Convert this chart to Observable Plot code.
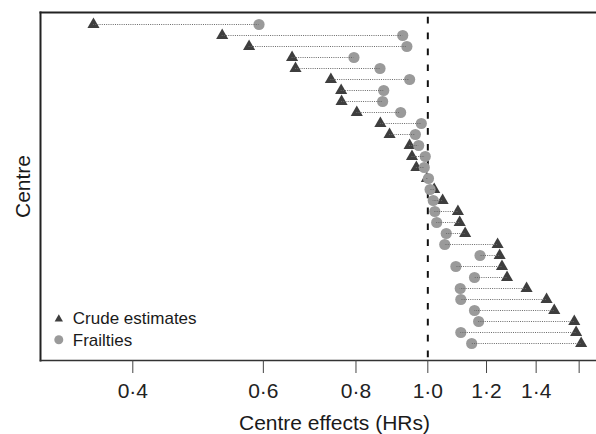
<!DOCTYPE html>
<html>
<head>
<meta charset="utf-8">
<script src="https://cdn.jsdelivr.net/npm/d3@7"></script>
<script src="https://cdn.jsdelivr.net/npm/@observablehq/plot@0.6"></script>
<style>
  html, body { margin: 0; padding: 0; background: #fff; overflow: hidden; }
  svg { font-family: "Liberation Sans", Arial, Helvetica, sans-serif; display: block; }
</style>
</head>
<body>
<div id="chart"></div>
<script>
// Centre rank (top to bottom)
const centre = d3.range(1, 31);
// Crude estimates (HR) per centre
const crude = [0.354, 0.528, 0.574, 0.656, 0.663, 0.740, 0.764, 0.765, 0.802, 0.863,
               0.888, 0.945, 0.952, 0.965, 0.997, 1.020, 1.047, 1.098, 1.104, 1.123,
               1.242, 1.250, 1.259, 1.279, 1.359, 1.446, 1.481, 1.576, 1.585, 1.610];
// Frailties (HR) per centre
const frailty = [0.592, 0.925, 0.937, 0.795, 0.862, 0.945, 0.872, 0.869, 0.919, 0.980,
                 0.962, 0.972, 0.992, 0.989, 1.002, 1.007, 1.017, 1.022, 1.028, 1.059,
                 1.054, 1.176, 1.091, 1.156, 1.106, 1.108, 1.156, 1.171, 1.108, 1.146];
const xTicks = [0.4, 0.6, 0.8, 1.0, 1.2, 1.4, 1.6];
const xTickLabels = ["0·4", "0·6", "0·8", "1·0", "1·2", "1·4", ""];
const legendLabels = ["Crude estimates", "Frailties"];
const xLabel = "Centre effects (HRs)";
const yLabel = "Centre";
const refValue = [1];

const rows = centre.map((c, i) => ({centre: c, crude: crude[i], frailty: frailty[i]}));

const triColor = "#3e3e3e";
const circColor = "#9a9a9a";

const chart = Plot.plot({
  width: 596,
  height: 434,
  marginLeft: 40,
  marginTop: 12,
  marginRight: 0,
  marginBottom: 74,
  style: {fontFamily: '"Liberation Sans", Arial, Helvetica, sans-serif', background: "#fff"},
  x: {type: "log", domain: [0.3003, 1.6886], axis: null},
  y: {type: "point", domain: centre, axis: null, insetTop: 10.7, insetBottom: 16.3, padding: 0},
  marks: [
    Plot.frame({anchor: "top", stroke: "#222", strokeWidth: 2}),
    Plot.frame({anchor: "left", stroke: "#222", strokeWidth: 2}),
    Plot.frame({anchor: "bottom", stroke: "#333", strokeWidth: 1.5}),
    Plot.axisX({
      ticks: xTicks,
      tickFormat: (d) => xTickLabels[xTicks.indexOf(d)],
      tickSize: 13, tickPadding: 10, fontSize: 21,
      stroke: "#444", color: "#222", label: null
    }),
    Plot.ruleX(refValue, {stroke: "#111", strokeWidth: 2, strokeDasharray: "6.7,9.2", strokeDashoffset: 11.2}),
    Plot.dot(rows, {x: "crude", y: "centre", symbol: "triangle", r: 4.5, fill: triColor, stroke: null}),
    Plot.dot(rows, {x: "frailty", y: "centre", symbol: "circle", r: 5.6, fill: circColor, stroke: null}),
    Plot.ruleY(rows, {x1: "crude", x2: "frailty", y: "centre", stroke: "#6a6a6a", strokeWidth: 1, strokeDasharray: "1,1.2"}),
    // legend
    Plot.dot([legendLabels[0]], {frameAnchor: "bottom-left", dx: 18.3, dy: -41.5, symbol: "triangle", r: 3.1, fill: triColor, stroke: null}),
    Plot.dot([legendLabels[1]], {frameAnchor: "bottom-left", dx: 18.3, dy: -20.7, symbol: "circle", r: 4.5, fill: circColor, stroke: null}),
    Plot.text([legendLabels[0]], {frameAnchor: "bottom-left", dx: 32.3, dy: -36.7, textAnchor: "start", lineAnchor: "bottom", fontSize: 17, fill: "#1a1a1a"}),
    Plot.text([legendLabels[1]], {frameAnchor: "bottom-left", dx: 32.3, dy: -14.7, textAnchor: "start", lineAnchor: "bottom", fontSize: 17, fill: "#1a1a1a"}),
    // axis titles
    Plot.text([xLabel], {frameAnchor: "bottom", dx: 16, dy: 69.3, textAnchor: "middle", lineAnchor: "bottom", fontSize: 21, fill: "#1a1a1a"}),
    Plot.text([yLabel], {frameAnchor: "left", dx: -10.7, rotate: -90, textAnchor: "middle", lineAnchor: "bottom", fontSize: 21, fill: "#1a1a1a"})
  ]
});
document.getElementById("chart").appendChild(chart);
</script>
</body>
</html>
